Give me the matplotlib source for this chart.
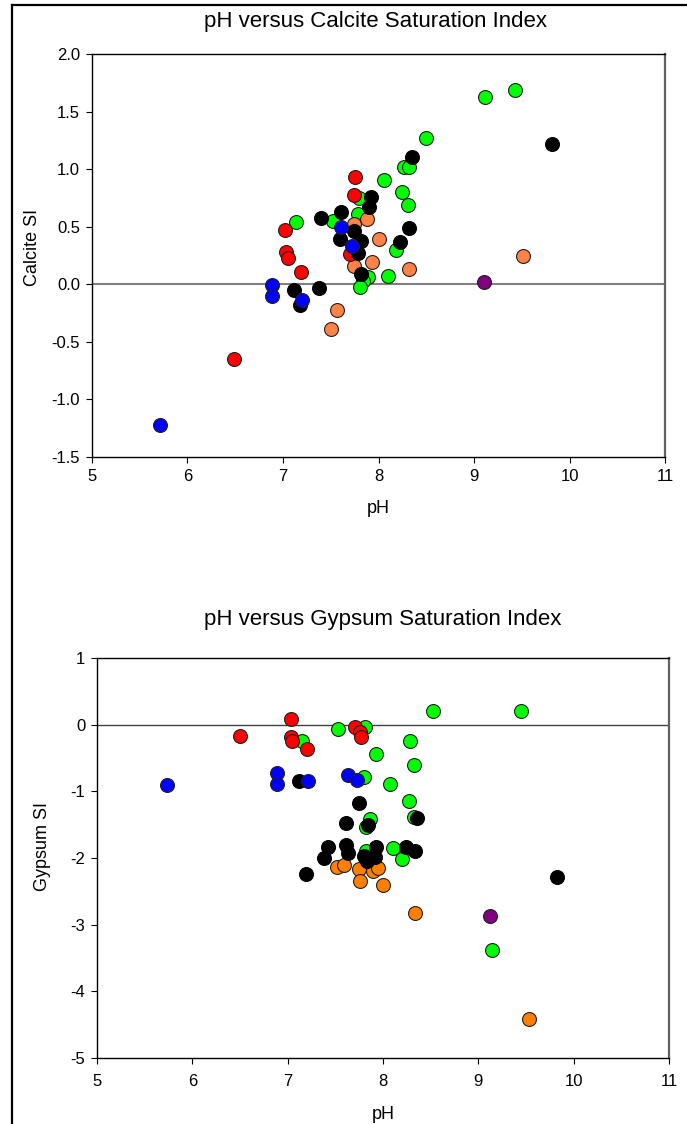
import matplotlib
matplotlib.use("Agg")
import matplotlib.pyplot as plt
from matplotlib.lines import Line2D

plt.rcParams['font.family'] = ['Liberation Sans', 'DejaVu Sans']
plt.rcParams['axes.unicode_minus'] = False

# ---- Calcite saturation index (top panel) ----
calcite_red_ph = [7.75, 7.74, 7.02, 7.70, 7.03, 7.05, 7.19, 6.49]
calcite_red_si = [0.93, 0.78, 0.47, 0.26, 0.28, 0.23, 0.11, -0.65]

calcite_green_ph = [9.43, 9.12, 8.50, 8.27, 8.32, 8.06, 8.25, 7.80, 8.31, 7.79, 7.52, 7.14,
                    8.18, 8.10, 7.89, 7.84, 7.81]
calcite_green_si = [1.69, 1.63, 1.27, 1.02, 1.02, 0.91, 0.80, 0.75, 0.69, 0.61, 0.55, 0.54,
                    0.30, 0.07, 0.06, 0.03, -0.02]

calcite_black_ph = [9.82, 8.35, 7.92, 7.90, 7.61, 7.40, 7.74, 8.32, 7.60, 7.82, 8.23, 7.79,
                    7.82, 7.12, 7.38, 7.18]
calcite_black_si = [1.22, 1.11, 0.76, 0.67, 0.63, 0.58, 0.46, 0.49, 0.39, 0.38, 0.37, 0.27,
                    0.09, -0.05, -0.03, -0.18]

calcite_blue_ph = [7.61, 7.72, 6.88, 6.88, 7.20, 5.71]
calcite_blue_si = [0.50, 0.33, -0.01, -0.10, -0.14, -1.22]

calcite_salmon_ph = [7.88, 7.74, 8.00, 7.93, 7.74, 8.32, 9.51, 7.57, 7.50]
calcite_salmon_si = [0.57, 0.52, 0.39, 0.19, 0.16, 0.13, 0.25, -0.22, -0.39]

calcite_purple_ph = [9.10]
calcite_purple_si = [0.02]

# ---- Gypsum saturation index (bottom panel) ----
gyp_red_ph = [6.50, 7.03, 7.03, 7.05, 7.20, 7.71, 7.76, 7.77]
gyp_red_si = [-0.17, 0.08, -0.18, -0.25, -0.36, -0.03, -0.11, -0.19]

gyp_green_ph = [7.15, 7.53, 7.81, 8.52, 9.45, 8.28, 7.93, 8.33, 7.80, 8.07, 8.27, 8.33,
                7.86, 7.82, 7.82, 8.11, 8.20, 9.14]
gyp_green_si = [-0.25, -0.07, -0.04, 0.20, 0.21, -0.25, -0.44, -0.61, -0.78, -0.89, -1.15, -1.38,
                -1.42, -1.53, -1.90, -1.85, -2.01, -3.38]

gyp_blue_ph = [5.73, 6.89, 6.89, 7.21, 7.63, 7.73]
gyp_blue_si = [-0.90, -0.72, -0.89, -0.84, -0.76, -0.83]

gyp_black_ph = [7.12, 7.75, 8.36, 7.61, 7.84, 7.42, 7.61, 7.38, 7.63, 7.93, 7.80, 7.92,
                7.83, 8.24, 8.34, 7.19, 9.83]
gyp_black_si = [-0.85, -1.17, -1.40, -1.48, -1.50, -1.84, -1.80, -2.00, -1.93, -1.83, -1.97, -1.98,
                -2.04, -1.83, -1.89, -2.24, -2.28]

gyp_orange_ph = [7.52, 7.59, 7.75, 7.90, 7.95, 7.76, 8.00, 8.34, 9.53]
gyp_orange_si = [-2.13, -2.10, -2.16, -2.20, -2.15, -2.35, -2.41, -2.83, -4.41]

gyp_purple_ph = [9.12]
gyp_purple_si = [-2.87]

MS = 100
EDGE = '#202020'
W, H = 687, 1124


def dots(ax, x, y, color, edge=EDGE):
    ax.scatter(x, y, s=MS, c=color, edgecolors=edge, linewidths=0.8, zorder=3)


def style_axes(ax):
    for side in ['left', 'bottom', 'top']:
        ax.spines[side].set_color('black')
        ax.spines[side].set_linewidth(1.0)
    ax.spines['right'].set_color('#606060')
    ax.spines['right'].set_linewidth(1.6)
    ax.tick_params(direction='out', length=4.5, width=0.8, labelsize=12, pad=4,
                   top=False, right=False)


fig = plt.figure(figsize=(6.87, 11.24), dpi=100)

# top panel
ax1 = fig.add_axes([0.1339, 0.5934, 0.8341, 0.3585])
ax1.axhline(0, color='#808080', lw=1.5, zorder=1)
dots(ax1, calcite_green_ph, calcite_green_si, '#00FF00')
dots(ax1, calcite_salmon_ph, calcite_salmon_si, '#FF8247')
dots(ax1, calcite_red_ph, calcite_red_si, '#FF0000')
dots(ax1, calcite_black_ph, calcite_black_si, 'black', 'black')
dots(ax1, calcite_blue_ph, calcite_blue_si, '#0000FF')
dots(ax1, calcite_purple_ph, calcite_purple_si, '#800080')
ax1.set_xlim(5, 11)
ax1.set_ylim(-1.5, 2.0)
ax1.set_xticks(range(5, 12))
ax1.set_yticks([-1.5, -1.0, -0.5, 0.0, 0.5, 1.0, 1.5, 2.0])
ax1.set_yticklabels(['%.1f' % v for v in [-1.5, -1.0, -0.5, 0.0, 0.5, 1.0, 1.5, 2.0]])
ax1.set_xlabel('pH', fontsize=13, labelpad=12)
ax1.set_ylabel('Calcite SI', fontsize=13)
ax1.yaxis.set_label_coords(-0.089, 0.52)
style_axes(ax1)
fig.text(375 / W, 1 - 22 / H, 'pH versus Calcite Saturation Index', fontsize=16,
         ha='center', va='center')

# bottom panel
ax2 = fig.add_axes([0.1412, 0.0587, 0.8326, 0.3559])
ax2.axhline(0, color='#404040', lw=1.0, zorder=1)
dots(ax2, gyp_green_ph, gyp_green_si, '#00FF00')
dots(ax2, gyp_orange_ph, gyp_orange_si, '#FF8000')
dots(ax2, gyp_black_ph, gyp_black_si, 'black', 'black')
dots(ax2, gyp_red_ph, gyp_red_si, '#FF0000')
dots(ax2, gyp_blue_ph, gyp_blue_si, '#0000FF')
dots(ax2, gyp_purple_ph, gyp_purple_si, '#800080')
ax2.set_xlim(5, 11)
ax2.set_ylim(-5, 1)
ax2.set_xticks(range(5, 12))
ax2.set_yticks(range(-5, 2))
style_axes(ax2)
ax2.tick_params(axis='x', pad=7)
ax2.set_xlabel('pH', fontsize=13, labelpad=12)
ax2.set_ylabel('Gypsum SI', fontsize=13)
ax2.yaxis.set_label_coords(-0.081, 0.53)
fig.text(383 / W, 1 - 620 / H, 'pH versus Gypsum Saturation Index', fontsize=16,
         ha='center', va='center')

# frame lines along the top and left edge of the page
fig.add_artist(Line2D([12 / W, 12 / W], [0, 1 - 5 / H], transform=fig.transFigure,
                      color='black', lw=1.6))
fig.add_artist(Line2D([12 / W, 1], [1 - 5 / H, 1 - 5 / H], transform=fig.transFigure,
                      color='black', lw=1.6))

fig.savefig('out.png', dpi=100)
